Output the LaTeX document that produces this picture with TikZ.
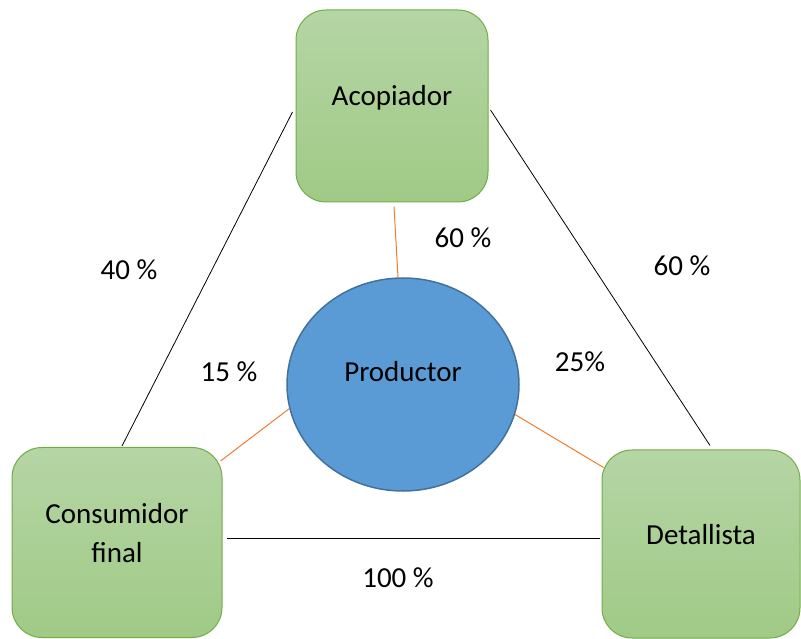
\documentclass[tikz,border=0pt]{standalone}
\usepackage{fontspec}
\setmainfont{Carlito}
\usetikzlibrary{shapes.geometric,calc}
\definecolor{gtop}{HTML}{B5D5A5}
\definecolor{gbot}{HTML}{A0CA86}
\definecolor{gline}{HTML}{70AD47}
\definecolor{bfill}{HTML}{5B9BD5}
\definecolor{bline}{HTML}{41719C}
\definecolor{oline}{HTML}{ED7D31}
\tikzset{
  box/.style={draw=gline, line width=1pt, rounded corners=30pt, top color=gtop, bottom color=gbot,
    inner sep=0pt, align=center},
  oneline/.style={text height=0pt, text depth=0pt},
  prodnode/.style={ellipse, draw=bline, line width=1.5pt, fill=bfill, inner sep=0pt,
    minimum width=232pt, minimum height=213pt, text height=0pt, text depth=6pt},
  pct/.style={anchor=base, inner sep=0pt},
  blk/.style={draw=black, line width=0.8pt},
  org/.style={draw=oline, line width=1pt}
}
\begin{document}
\begin{tikzpicture}[x=1pt, y=1pt, font=\fontsize{29}{39}\selectfont]
\useasboundingbox (0,0) rectangle (801,638);
\node[box, oneline, minimum width=192pt, minimum height=192pt] (aco) at (392,532) {Acopiador};
\node[box, text depth=20pt, minimum width=210pt, minimum height=190pt] (con) at (117,95.5) {Consumidor\\final};
\node[box, oneline, minimum width=198pt, minimum height=188pt] (det) at (701,94) {Detallista};
\node[prodnode] (prod) at (403,253.5) {Productor};

\draw[blk] ([xshift=-3pt,yshift=-6pt]aco.west) -- ([xshift=5pt,yshift=1pt]con.north);
\draw[blk] ([xshift=2pt,yshift=-4pt]aco.east) -- ([xshift=9pt,yshift=4pt]det.north);
\draw[blk] ([xshift=4pt,yshift=4.5pt]con.east) -- ([xshift=-2pt,yshift=6pt]det.west);

\draw[org] ([xshift=2pt,yshift=-4pt]aco.south) -- ([xshift=-5pt]prod.north);
\draw[org] ([xshift=-2pt,yshift=-14pt]con.north east) -- (prod.192);
\draw[org] (prod.-15) -- ([xshift=2pt,yshift=-18pt]det.north west);

\node[pct] (p40) at (129,358) {40 \%};
\node[pct] (p60a) at (463,390) {60 \%};
\node[pct] (p60b) at (682,362) {60 \%};
\node[pct] (p15) at (229,256) {15 \%};
\node[pct] (p25) at (580,266) {25\%};
\node[pct] (p100) at (398,51) {100 \%};
\end{tikzpicture}
\end{document}
